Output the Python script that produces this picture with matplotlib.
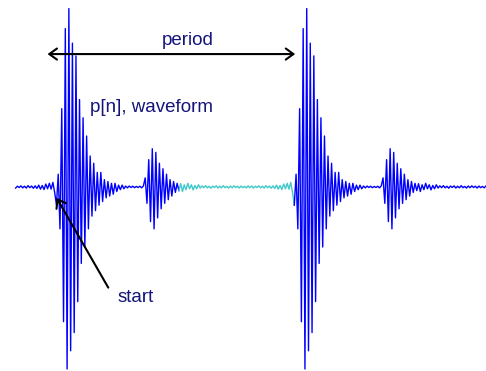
import matplotlib
matplotlib.use("Agg")
import matplotlib.pyplot as plt

plt.rcParams['font.family'] = ['Liberation Sans', 'DejaVu Sans']

# one period of p[n], split into its parts (alternating extrema, amplitude -1..1)
main_burst = [-0.10, 0.07, -0.23, 0.43, -0.74, 0.87, -1.00, 0.98, -0.90, 0.79,
              -0.80, 0.72, -0.63, 0.48, -0.42, 0.38, -0.33, 0.28, -0.23, 0.17,
              -0.16, 0.13, -0.13, 0.08, -0.10, 0.08, -0.08, 0.04]
main_tail = [-0.06, 0.03, -0.05, 0.02, -0.04, 0.02, -0.025, 0.01, -0.015, 0.01,
             -0.01, 0.005]
gap = [-0.005, 0.005, -0.003, 0.004, -0.004, 0.003, -0.003, 0.004, -0.005, 0.006]
small_burst = [0.05, -0.09, 0.15, -0.19, 0.21, -0.23, 0.19, -0.17, 0.13, -0.12,
               0.10, -0.09, 0.07, -0.07, 0.04, -0.05, 0.03, -0.03, 0.02]
rest_start = [-0.02, 0.018, -0.025, 0.012, -0.015, 0.02, -0.01, 0.012, -0.016,
              0.008, -0.01, 0.012, -0.006]
rest_mid = [0.006, -0.004, 0.007, -0.005, 0.004, -0.007, 0.005, -0.003, 0.006,
            -0.006, 0.004, -0.005, 0.007, -0.004, 0.003, -0.006, 0.005, -0.004,
            0.006, -0.003, 0.004, -0.006, 0.005, -0.004, 0.003, -0.005, 0.006,
            -0.004, 0.005, -0.006, 0.004, -0.003, 0.006, -0.005, 0.004, -0.006,
            0.007, -0.004, 0.005, -0.007, 0.006]
rest_end = [-0.008, 0.01, -0.012, 0.008, -0.014, 0.016, -0.01, 0.02, -0.012,
            0.025, -0.03]

cycle = main_burst + main_tail + gap + small_burst + rest_start + rest_mid + rest_end
N = len(cycle)
rest_from = N - len(rest_start) - len(rest_mid) - len(rest_end)

# samples shown: a bit of the previous period, then two periods
n = list(range(-23, 2 * N))
p = [cycle[k % N] for k in n]

fig = plt.figure(figsize=(4.86, 3.71), dpi=100)
ax = fig.add_axes([0, 0, 1, 1])

blue = '#0000ff'
cyan = '#40c8c8'
i0 = rest_from + 23  # list position of the highlighted stretch
i1 = N + 23
ax.plot(n[:i0 + 1], p[:i0 + 1], color=blue, lw=1.0)
ax.plot(n[i0:i1 + 1], p[i0:i1 + 1], color=cyan, lw=1.0)
ax.plot(n[i1:], p[i1:], color=blue, lw=1.0)

ax.set_xlim(-31.8, 242.0)
ax.set_ylim(-1.011, 1.027)
ax.axis('off')

txt = '#14147a'
ax.annotate('', xy=(N + 0.5, 0.73), xytext=(-5, 0.73),
            arrowprops=dict(arrowstyle='<->, head_length=0.55, head_width=0.4',
                            color='black', lw=1.5, shrinkA=0, shrinkB=0))
ax.text(0.387, 0.879, 'period', transform=ax.transAxes, ha='center',
        va='baseline', fontsize=13.5, color=txt)
ax.text(0.185, 0.699, 'p[n], waveform', transform=ax.transAxes, ha='left',
        va='baseline', fontsize=13.5, color=txt)

ax.annotate('', xy=(0.1, -0.06), xytext=(29.2, -0.553),
            arrowprops=dict(arrowstyle='->, head_length=0.55, head_width=0.4',
                            color='black', lw=1.5, shrinkA=0, shrinkB=0))
ax.text(0.241, 0.187, 'start', transform=ax.transAxes, ha='left',
        va='baseline', fontsize=13.5, color=txt)

fig.savefig('out.png', dpi=100, facecolor='white')
